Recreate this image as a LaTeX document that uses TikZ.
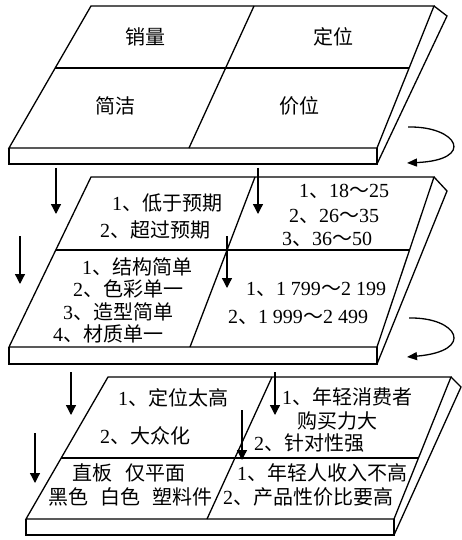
\documentclass[tikz,border=0pt]{standalone}
\usepackage{fontspec}
\setmainfont{Liberation Serif}
\newfontfamily\cjk{Noto Sans CJK SC}
\usetikzlibrary{arrows.meta}
\newcommand\mydun{{\cjk 、}}
\newcommand\mytil{{\cjk ～}}
\begin{document}
\begin{tikzpicture}[x=1pt,y=-1pt,
  edge/.style={line width=1.3pt, line join=miter},
  txt/.style={font=\fontsize{20}{20}\selectfont, inner sep=0pt},
  arr/.style={line width=1.3pt, -{Triangle[length=10pt,width=10pt]}},
  carr/.style={line width=1.3pt, -{Triangle[length=10pt,width=8pt]}},
]
\useasboundingbox (0,0) rectangle (462,540);
\fill[white] (0,0) rectangle (462,540);

% ---------- slab 1 ----------
\coordinate (s1a) at (91,6);
\coordinate (s1b) at (434,6);
\coordinate (s1c) at (377,148);
\coordinate (s1d) at (9,148);
\coordinate (s1e) at (447,16);
\coordinate (s1f) at (377,164);
\coordinate (s1g) at (9,164);
\draw[edge] (s1a) -- (s1b) -- (s1c) -- (s1d) -- cycle;
\draw[edge] (s1d) -- (s1g) -- (s1f) -- (s1c);
\draw[edge] (s1b) -- (s1e) -- (s1f);
\coordinate (h1l) at (55,68);
\coordinate (h1r) at (409,68);
\coordinate (v1t) at (254,6);
\coordinate (v1b) at (189,148);
\draw[edge] (h1l) -- (h1r);
\draw[edge] (v1t) -- (v1b);

\node[txt] (t11) at (145,37) {\cjk 销量};
\node[txt] (t12) at (333,37) {\cjk 定位};
\node[txt] (t13) at (115,106) {\cjk 简洁};
\node[txt] (t14) at (299,106) {\cjk 价位};

% ---------- slab 2 ----------
\coordinate (s2a) at (91,177);
\coordinate (s2b) at (434,177);
\coordinate (s2c) at (377,347);
\coordinate (s2d) at (9,347);
\coordinate (s2e) at (447,191);
\coordinate (s2f) at (377,364);
\coordinate (s2g) at (9,364);
\draw[edge] (s2a) -- (s2b) -- (s2c) -- (s2d) -- cycle;
\draw[edge] (s2d) -- (s2g) -- (s2f) -- (s2c);
\draw[edge] (s2b) -- (s2e) -- (s2f);
\coordinate (h2l) at (56,250);
\coordinate (h2r) at (409.5,250);
\coordinate (v2t) at (255,177);
\coordinate (v2b) at (190,347);
\draw[edge] (h2l) -- (h2r);
\draw[edge] (v2t) -- (v2b);

\node[txt] (t21) at (167,203) {1\mydun{\cjk 低于预期}};
\node[txt] (t22) at (155,230) {2\mydun{\cjk 超过预期}};
\node[txt] (t23) at (344,191) {1\mydun 18\mytil 25};
\node[txt] (t24) at (334,216) {2\mydun 26\mytil 35};
\node[txt] (t25) at (327,239) {3\mydun 36\mytil 50};
\node[txt] (t26) at (137,267) {1\mydun{\cjk 结构简单}};
\node[txt] (t27) at (128,289) {2\mydun{\cjk 色彩单一}};
\node[txt] (t28) at (118,312) {3\mydun{\cjk 造型简单}};
\node[txt] (t29) at (108,334) {4\mydun{\cjk 材质单一}};
\node[txt] (t2a) at (316,289) {1\mydun 1 799\mytil 2 199};
\node[txt] (t2b) at (298,317) {2\mydun 1 999\mytil 2 499};

% ---------- slab 3 ----------
\coordinate (s3a) at (108,377);
\coordinate (s3b) at (451,377);
\coordinate (s3c) at (394,519);
\coordinate (s3d) at (26,519);
\coordinate (s3e) at (461,387);
\coordinate (s3f) at (394,535);
\coordinate (s3g) at (26,535);
\draw[edge] (s3a) -- (s3b) -- (s3c) -- (s3d) -- cycle;
\draw[edge] (s3d) -- (s3g) -- (s3f) -- (s3c);
\draw[edge] (s3b) -- (s3e) -- (s3f);
\coordinate (h3l) at (61,458);
\coordinate (h3r) at (419,458);
\coordinate (v3t) at (272,377);
\coordinate (v3b) at (207,519);
\draw[edge] (h3l) -- (h3r);
\draw[edge] (v3t) -- (v3b);

\node[txt] (t31) at (173,398) {1\mydun{\cjk 定位太高}};
\node[txt] (t32) at (145,436) {2\mydun{\cjk 大众化}};
\node[txt] (t33) at (347,397) {1\mydun{\cjk 年轻消费者}};
\node[txt] (t34) at (337,421) {\cjk 购买力大};
\node[txt] (t35) at (309,443) {2\mydun{\cjk 针对性强}};
\node[txt] (t36) at (129,473) {\cjk 直板\hspace{0.7em}仅平面};
\node[txt] (t37) at (130,497) {\cjk 黑色\hspace{0.6em}白色\hspace{0.6em}塑料件};
\node[txt] (t38) at (322,473) {1\mydun{\cjk 年轻人收入不高}};
\node[txt] (t39) at (308,497) {2\mydun{\cjk 产品性价比要高}};

% ---------- arrows ----------
\coordinate (a1s) at (56,168);   \coordinate (a1e) at (56,214);
\coordinate (a2s) at (258,168);  \coordinate (a2e) at (258,214);
\coordinate (a3s) at (20,236);   \coordinate (a3e) at (20,284);
\coordinate (a4s) at (227,236);  \coordinate (a4e) at (227,288);
\coordinate (a5s) at (71,372);   \coordinate (a5e) at (71,415);
\coordinate (a6s) at (275,372);  \coordinate (a6e) at (275,415);
\coordinate (a7s) at (35,433);   \coordinate (a7e) at (35,483);
\coordinate (a8s) at (242,410);  \coordinate (a8e) at (242,460);
\foreach \i in {1,...,8} \draw[arr] (a\i s) -- (a\i e);

\coordinate (c1s) at (408,127); \coordinate (c1e) at (407,163);
\coordinate (c2s) at (409,318); \coordinate (c2e) at (407,357);
\draw[carr] (c1s) .. controls (458,126) and (476,160) .. (c1e);
\draw[carr] (c2s) .. controls (458,317) and (476,351) .. (c2e);
\end{tikzpicture}
\end{document}
